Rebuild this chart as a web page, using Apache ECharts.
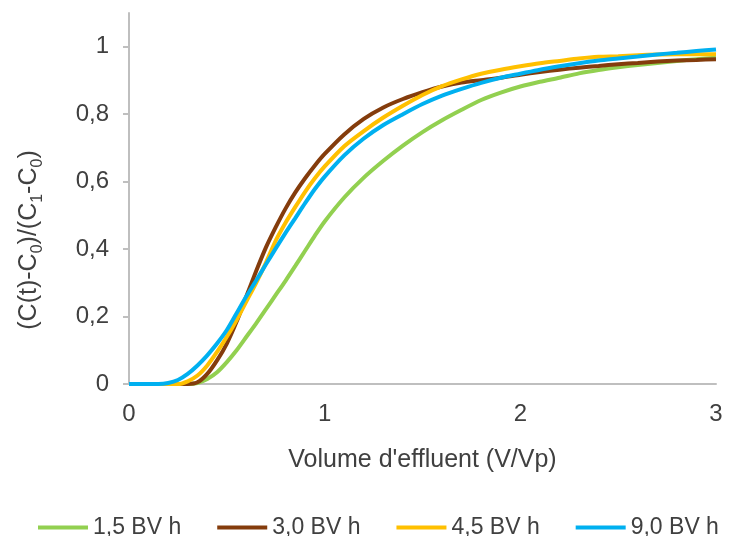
<!DOCTYPE html>
<html>
<head>
<meta charset="utf-8">
<script src="https://cdn.jsdelivr.net/npm/echarts@6/dist/echarts.min.js"></script>
<style>
  html, body { margin: 0; padding: 0; background: #fff; }
  #chart { width: 732px; height: 536px; }
</style>
</head>
<body>
<div id="chart"></div>
<script>
// Breakthrough curves: normalised concentration vs. effluent volume (V/Vp)
const volume = [0, 0.05, 0.1, 0.15, 0.2, 0.25, 0.3, 0.35, 0.4, 0.45, 0.5, 0.55, 0.6, 0.65, 0.7, 0.75, 0.8, 0.85, 0.9, 0.95, 1.0,
  1.1, 1.2, 1.3, 1.4, 1.5, 1.6, 1.7, 1.8, 1.9, 2.0, 2.1, 2.2, 2.3, 2.4, 2.5, 2.6, 2.7, 2.8, 2.9, 3.0];

const seriesNames = ['1,5 BV h', '3,0 BV h', '4,5 BV h', '9,0 BV h'];

const flow15 = [0, 0, 0, 0, 0, 0, 0, 0.003, 0.015, 0.035, 0.065, 0.10, 0.14, 0.18, 0.222, 0.264, 0.306, 0.35, 0.395, 0.44, 0.482,
  0.553, 0.612, 0.662, 0.707, 0.747, 0.782, 0.813, 0.842, 0.864, 0.882, 0.896, 0.908, 0.921, 0.931, 0.939, 0.946, 0.952, 0.958, 0.963, 0.967];

const flow30 = [0, 0, 0, 0, 0, 0, 0, 0.005, 0.03, 0.07, 0.12, 0.185, 0.26, 0.335, 0.405, 0.465, 0.52, 0.568, 0.61, 0.648, 0.682,
  0.74, 0.786, 0.82, 0.845, 0.865, 0.882, 0.894, 0.901, 0.908, 0.917, 0.925, 0.932, 0.938, 0.943, 0.948, 0.952, 0.956, 0.959, 0.961, 0.963];

const flow45 = [0, 0, 0, 0, 0, 0, 0.008, 0.025, 0.055, 0.095, 0.14, 0.19, 0.245, 0.30, 0.36, 0.425, 0.478, 0.525, 0.57, 0.61, 0.645,
  0.705, 0.75, 0.79, 0.825, 0.857, 0.883, 0.903, 0.92, 0.932, 0.942, 0.951, 0.958, 0.965, 0.97, 0.972, 0.975, 0.977, 0.978, 0.978, 0.978];

const flow90 = [0, 0, 0, 0, 0.003, 0.012, 0.03, 0.055, 0.085, 0.12, 0.16, 0.21, 0.26, 0.307, 0.355, 0.402, 0.448, 0.492, 0.536, 0.578, 0.615,
  0.678, 0.728, 0.768, 0.80, 0.83, 0.855, 0.875, 0.893, 0.908, 0.92, 0.932, 0.942, 0.951, 0.959, 0.965, 0.971, 0.977, 0.982, 0.987, 0.992];

const xTicks = [0, 1, 2, 3];
const yTicks = [0, 0.2, 0.4, 0.6, 0.8, 1];

const colors = ['#92D050', '#843C0C', '#FFC000', '#00B0F0'];
const values = [flow15, flow30, flow45, flow90];

const textColor = '#404040';
const axisColor = '#BFBFBF';
const fontFamily = '"Liberation Sans", Arial, sans-serif';

const comma = v => String(Math.round(v * 10) / 10).replace('.', ',');

const chart = echarts.init(document.getElementById('chart'), null, { renderer: 'canvas' });

chart.setOption({
  animation: false,
  backgroundColor: '#ffffff',
  textStyle: { fontFamily: fontFamily, color: textColor },
  grid: { left: 129, right: 16, top: 13, bottom: 152, containLabel: false },
  legend: {
    data: seriesNames,
    left: 33,
    top: 511,
    itemWidth: 50,
    itemHeight: 4,
    itemGap: 36,
    icon: 'rect',
    textStyle: { fontSize: 23, color: textColor, fontFamily: fontFamily }
  },
  xAxis: {
    type: 'value',
    min: 0,
    max: 3,
    interval: 1,
    name: "Volume d'effluent (V/Vp)",
    nameLocation: 'middle',
    nameGap: 64,
    nameTextStyle: { fontSize: 25, color: textColor, fontFamily: fontFamily },
    axisLine: { show: true, lineStyle: { color: axisColor, width: 2 } },
    axisTick: { show: false },
    splitLine: { show: false },
    axisLabel: {
      customValues: xTicks,
      fontSize: 24,
      color: textColor,
      margin: 18,
      formatter: v => comma(v)
    }
  },
  yAxis: {
    type: 'value',
    min: 0,
    max: 1.1,
    interval: 0.2,
    axisLine: { show: true, lineStyle: { color: axisColor, width: 2 } },
    axisTick: { show: true, length: 6, lineStyle: { color: axisColor, width: 2 }, customValues: yTicks },
    splitLine: { show: false },
    axisLabel: {
      customValues: yTicks,
      fontSize: 24,
      color: textColor,
      margin: 20,
      formatter: v => comma(v)
    }
  },
  graphic: [{
    type: 'text',
    x: 27,
    y: 240,
    rotation: Math.PI / 2,
    style: {
      text: '{a|(C(t)-C}{s|0}{a|)/(C}{s|1}{a|-C}{s|0}{a|)}',
      align: 'center',
      verticalAlign: 'middle',
      rich: {
        a: { fontSize: 25, fill: textColor, fontFamily: fontFamily, lineHeight: 30, verticalAlign: 'bottom' },
        s: { fontSize: 16, fill: textColor, fontFamily: fontFamily, lineHeight: 30, verticalAlign: 'bottom', padding: [0, 0, -4, 0] }
      }
    }
  }],
  series: seriesNames.map((name, i) => ({
    name: name,
    type: 'line',
    data: volume.map((x, k) => [x, values[i][k]]),
    showSymbol: false,
    smooth: 0.25,
    color: colors[i],
    lineStyle: { color: colors[i], width: 4 },
    z: 2 + i
  }))
});
</script>
</body>
</html>
